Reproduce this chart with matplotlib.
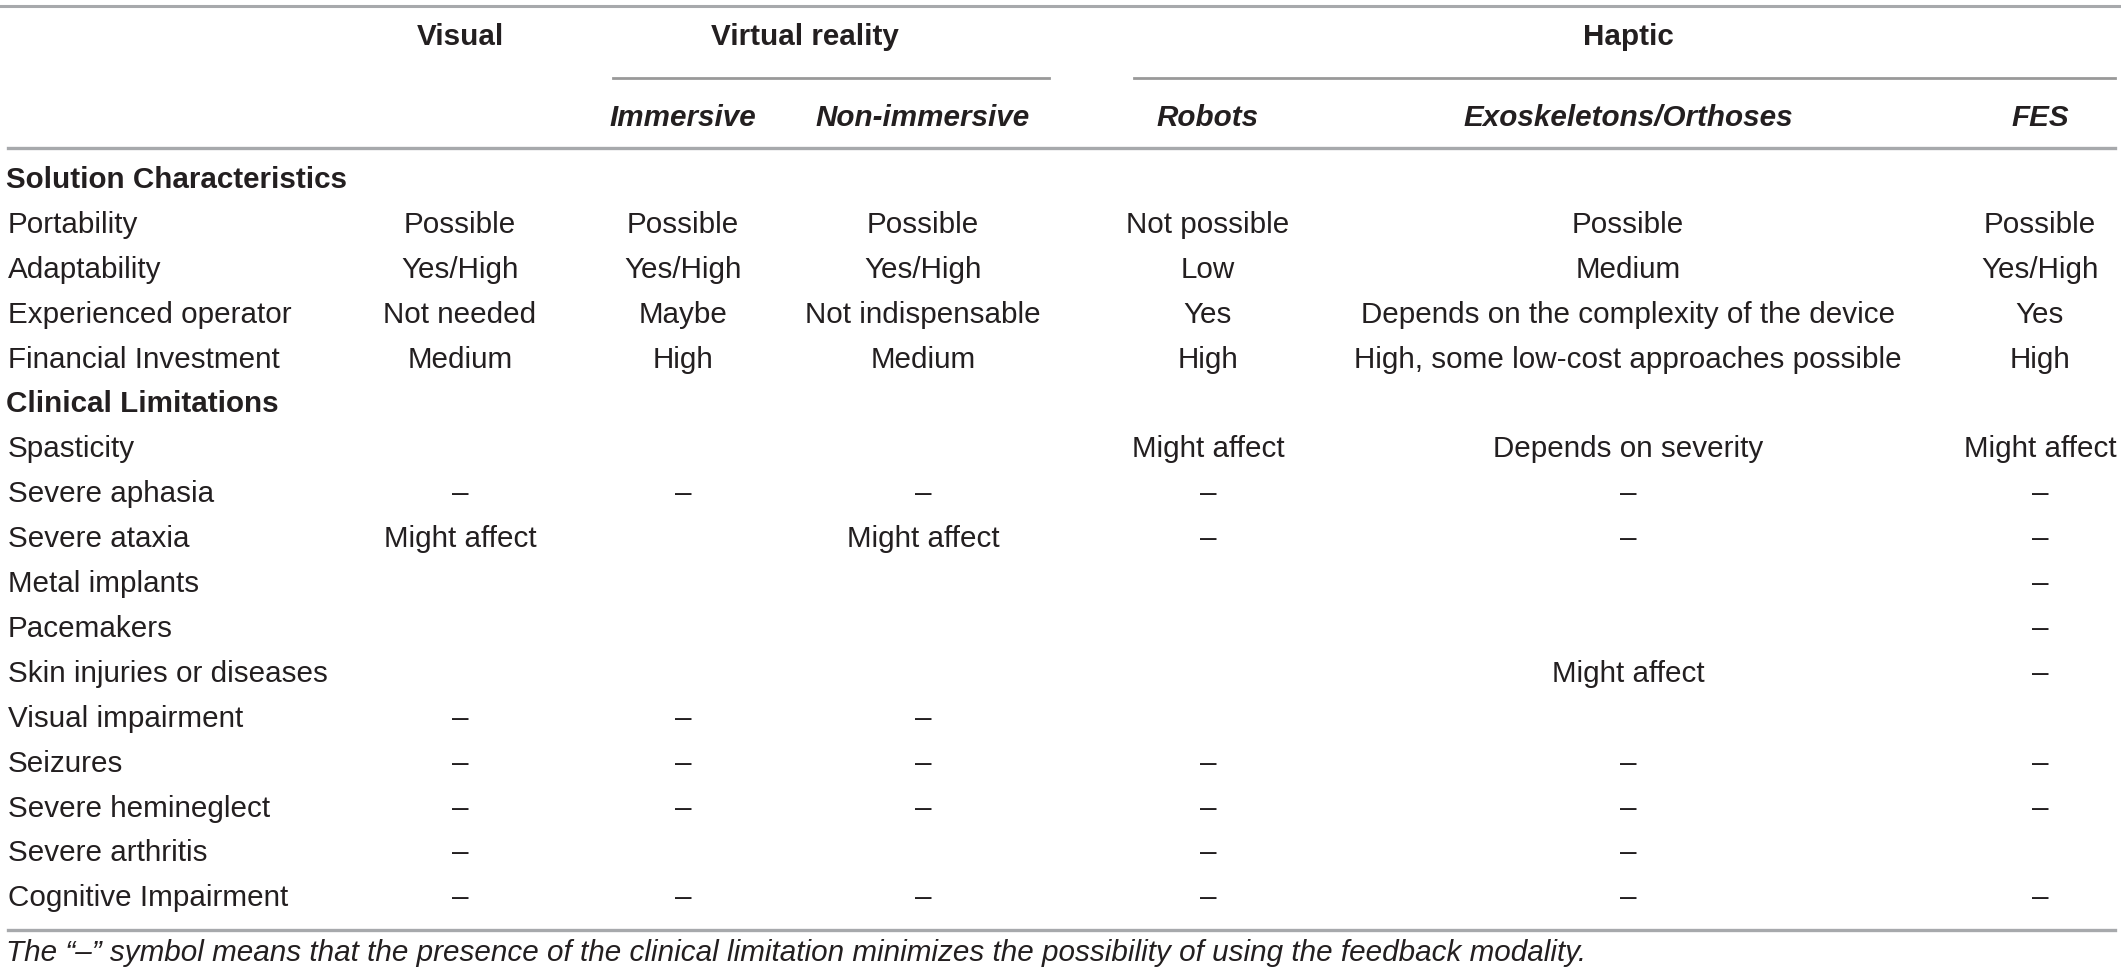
import matplotlib
matplotlib.use('Agg')
import matplotlib.pyplot as plt

plt.rcParams['font.family'] = ['Liberation Sans', 'DejaVu Sans']

groups = ['Visual', 'Virtual reality', 'Haptic']
subheads = ['', 'Immersive', 'Non-immersive', 'Robots', 'Exoskeletons/Orthoses', 'FES']
sections = ['Solution Characteristics', 'Clinical Limitations']

char_rows = ['Portability', 'Adaptability', 'Experienced operator', 'Financial Investment']
char_vals = [
    ['Possible', 'Possible', 'Possible', 'Not possible', 'Possible', 'Possible'],
    ['Yes/High', 'Yes/High', 'Yes/High', 'Low', 'Medium', 'Yes/High'],
    ['Not needed', 'Maybe', 'Not indispensable', 'Yes', 'Depends on the complexity of the device', 'Yes'],
    ['Medium', 'High', 'Medium', 'High', 'High, some low-cost approaches possible', 'High'],
]

D = '\u2013'
lim_rows = ['Spasticity', 'Severe aphasia', 'Severe ataxia', 'Metal implants', 'Pacemakers',
            'Skin injuries or diseases', 'Visual impairment', 'Seizures', 'Severe hemineglect',
            'Severe arthritis', 'Cognitive Impairment']
lim_vals = [
    ['', '', '', 'Might affect', 'Depends on severity', 'Might affect'],
    [D, D, D, D, D, D],
    ['Might affect', '', 'Might affect', D, D, D],
    ['', '', '', '', '', D],
    ['', '', '', '', '', D],
    ['', '', '', '', 'Might affect', D],
    [D, D, D, '', '', ''],
    [D, D, D, D, D, D],
    [D, D, D, D, D, D],
    [D, '', '', D, D, ''],
    [D, D, D, D, D, D],
]

footnote = ('The \u201c\u2013\u201d symbol means that the presence of the clinical limitation '
            'minimizes the possibility of using the feedback modality.')

W, H = 2121, 976
fig = plt.figure(figsize=(W / 100, H / 100), dpi=100)
ax = fig.add_axes([0, 0, 1, 1])
ax.set_xlim(0, W)
ax.set_ylim(H, 0)
ax.axis('off')

txt = '#231f20'
line_c = '#a7a9ac'
fs = 21.3

col_x = [460, 683, 923, 1208, 1628, 2040]
group_x = [460, 805, 1628]
x_left = 8
row0 = 180
step = 44.9

# 横线
ax.plot([0, W], [6, 6], color=line_c, lw=2.2)
ax.plot([613, 1049], [78, 78], color='#999999', lw=2.0)
ax.plot([1134, 2115], [78, 78], color='#999999', lw=2.0)
ax.plot([8, 2115], [148, 148], color=line_c, lw=2.4)
ax.plot([8, 2115], [930, 930], color=line_c, lw=2.4)

for g, x in zip(groups, group_x):
    ax.text(x, 37, g, ha='center', va='center', fontsize=fs, fontweight='bold', color=txt)
for s, x in zip(subheads, col_x):
    if s:
        ax.text(x, 118, s, ha='center', va='center', fontsize=fs, fontweight='bold',
                style='italic', color=txt)

y = row0
for sec, rows, vals in [(sections[0], char_rows, char_vals), (sections[1], lim_rows, lim_vals)]:
    ax.text(x_left - 2, y, sec, ha='left', va='center', fontsize=fs, fontweight='bold', color=txt)
    y += step
    for name, vv in zip(rows, vals):
        ax.text(x_left, y, name, ha='left', va='center', fontsize=fs, color=txt)
        for v, x in zip(vv, col_x):
            if v:
                ax.text(x, y, v, ha='center', va='center', fontsize=fs, color=txt)
        y += step

ax.text(x_left - 2, 953, footnote, ha='left', va='center', fontsize=fs, style='italic', color=txt)

fig.savefig('out.png', dpi=100)
